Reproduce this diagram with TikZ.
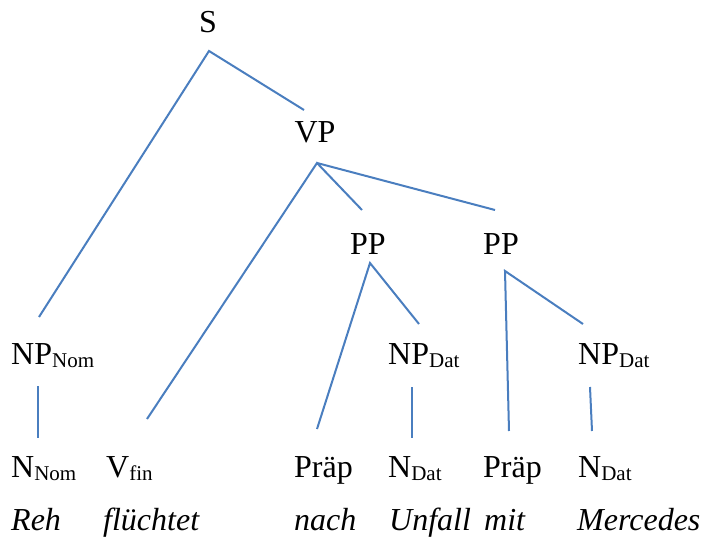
\documentclass[tikz,border=0pt]{standalone}
\usepackage{fontspec}
\setmainfont{Liberation Serif}
\definecolor{edge}{HTML}{4A7EBF}
\newcommand\lowsub[1]{\raisebox{-3pt}{\fontsize{21}{21}\selectfont #1}}
\begin{document}
\begin{tikzpicture}[x=1pt,y=-1pt,
  lbl/.style={anchor=base west,inner sep=0pt,font=\fontsize{32}{36}\selectfont},
  lblc/.style={anchor=base,inner sep=0pt,font=\fontsize{32}{36}\selectfont},
  word/.style={anchor=base west,inner sep=0pt,font=\fontsize{32}{36}\selectfont\itshape},
  branch/.style={draw=edge,line width=2pt},
  stem/.style={draw=edge,line width=2.8pt}]
\useasboundingbox (0,0) rectangle (704,537);
% labels
\node[lblc] (S) at (208,33) {S};
\node[lblc] (VP) at (315,143) {VP};
\node[lblc] (PP1) at (368,255) {PP};
\node[lblc] (PP2) at (501,255) {PP};
\node[lbl] (NPnom) at (11,364) {NP\lowsub{Nom}};
\node[lbl] (NPdat1) at (388,364) {NP\lowsub{Dat}};
\node[lbl] (NPdat2) at (578,364) {NP\lowsub{Dat}};
\node[lbl] (Nnom) at (11,477) {N\lowsub{Nom}};
\node[lbl] (Vfin) at (106,477) {V\lowsub{fin}};
\node[lbl] (Praep1) at (294,477) {Präp};
\node[lbl] (Ndat1) at (388,477) {N\lowsub{Dat}};
\node[lbl] (Praep2) at (483,477) {Präp};
\node[lbl] (Ndat2) at (578,477) {N\lowsub{Dat}};
\node[word] (w1) at (11,530) {Reh};
\node[word] (w2) at (103,530) {flüchtet};
\node[word] (w3) at (294,530) {nach};
\node[word] (w4) at (389,530) {Unfall};
\node[word] (w5) at (484,530) {mit};
\node[word] (w6) at (577,530) {Mercedes};
% connector end points
\coordinate (S-b) at (209,51);
\coordinate (VP-t) at (304,110);
\coordinate (NPnom-t) at (39,317);
\coordinate (VP-b) at (317,163);
\coordinate (Vfin-t) at (147,419);
\coordinate (PP1-t) at (362,210);
\coordinate (PP2-t) at (495,210);
\coordinate (PP1-b) at (370,263);
\coordinate (Praep1-t) at (317,429);
\coordinate (NPdat1-t) at (419,324);
\coordinate (PP2-b) at (505,271);
\coordinate (Praep2-t) at (509,431);
\coordinate (NPdat2-t) at (583,324);
\coordinate (NPnom-b) at (38,386);
\coordinate (Nnom-t) at (38,438);
\coordinate (NPdat1-b) at (412,387);
\coordinate (Ndat1-t) at (412,438);
\coordinate (NPdat2-b) at (590,387);
\coordinate (Ndat2-t) at (592,431);
% connectors
\draw[branch] (NPnom-t) -- (S-b) -- (VP-t);
\draw[branch] (Vfin-t) -- (VP-b) -- (PP1-t);
\draw[branch] (VP-b) -- (PP2-t);
\draw[branch] (Praep1-t) -- (PP1-b) -- (NPdat1-t);
\draw[branch] (Praep2-t) -- (PP2-b) -- (NPdat2-t);
\draw[stem] (NPnom-b) -- (Nnom-t);
\draw[branch] (NPdat1-b) -- (Ndat1-t);
\draw[branch] (NPdat2-b) -- (Ndat2-t);
\end{tikzpicture}
\end{document}
